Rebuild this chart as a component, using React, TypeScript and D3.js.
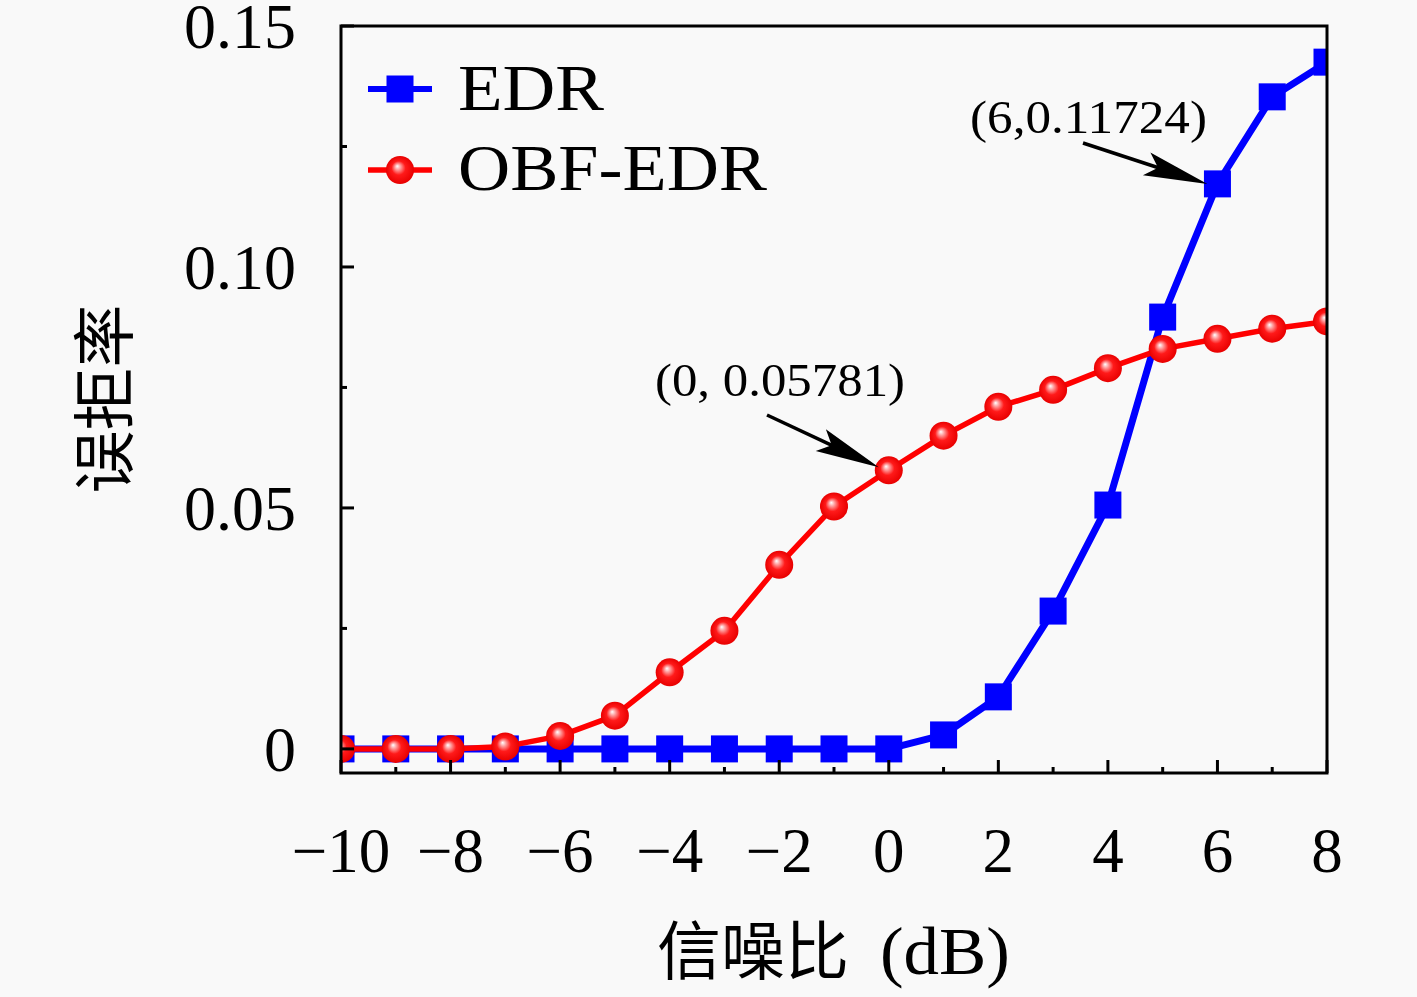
import React from "react";
import * as d3 from "d3";

const snr = [-10, -9, -8, -7, -6, -5, -4, -3, -2, -1, 0, 1, 2, 3, 4, 5, 6, 7, 8];
const edr = [0, 0, 0, 0, 0, 0, 0, 0, 0, 0, 0, 0.0029, 0.0108, 0.0286, 0.0506, 0.0896, 0.11724, 0.1353, 0.1425];
const obfEdr = [0, 0, 0, 0.0005, 0.0027, 0.0069, 0.0159, 0.0245, 0.0382, 0.0503, 0.05781, 0.065, 0.071, 0.0745, 0.079, 0.083, 0.0851, 0.0872, 0.0887];
const xTicks = [-10, -8, -6, -4, -2, 0, 2, 4, 6, 8];
const xMinor = [-9, -7, -5, -3, -1, 1, 3, 5, 7];
const yTicks = [0, 0.05, 0.1, 0.15];
const yTickLabels = ["0", "0.05", "0.10", "0.15"];
const yMinor = [0.025, 0.075, 0.125];
const seriesNames = ["EDR", "OBF-EDR"];
const annoTexts = ["(6,0.11724)", "(0, 0.05781)"];
const xLabelCn = "信噪比";
const xLabelUnit = "(dB)";
const yLabel = "误拒率";

const W = 1417, H = 997;
const L = 341, R = 1327, T = 26, B = 773;

const serif = "'Liberation Serif', 'DejaVu Serif', serif";
const cjk = "'Noto Sans CJK SC', 'Noto Sans CJK JP', sans-serif";

function Arrow({ x1, y1, x2, y2, head = 64, half = 12 }: any) {
  const dx = x2 - x1, dy = y2 - y1;
  const len = Math.hypot(dx, dy);
  const ux = dx / len, uy = dy / len;
  const bx = x2 - ux * head, by = y2 - uy * head;
  const px = -uy, py = ux;
  const pts = `${x2},${y2} ${bx + px * half},${by + py * half} ${bx + ux * 12},${by + uy * 12} ${bx - px * half},${by - py * half}`;
  return (
    <g>
      <line x1={x1} y1={y1} x2={bx + ux * 14} y2={by + uy * 14} stroke="#000" strokeWidth={3.5} />
      <polygon points={pts} fill="#000" />
    </g>
  );
}

export default function App() {
  const x = d3.scaleLinear().domain([-10, 8]).range([L, R]);
  const y = d3.scaleLinear().domain([-0.005, 0.15]).range([B, T]);
  const line = d3.line<number>().x((_, i) => x(snr[i])).y((d) => y(d));

  const sq = 27;
  const r = 14;

  return (
    <svg width={W} height={H} style={{ position: "absolute", left: 0, top: 0 }}>
      <defs>
        <clipPath id="plot">
          <rect x={L} y={T} width={R - L} height={B - T} />
        </clipPath>
        <radialGradient id="ball" cx="0.5" cy="0.5" r="0.5" fx="0.4" fy="0.36">
          <stop offset="0%" stopColor="#ffffff" />
          <stop offset="20%" stopColor="#ffa0a0" />
          <stop offset="50%" stopColor="#ff1a1a" />
          <stop offset="100%" stopColor="#e80000" />
        </radialGradient>
      </defs>
      <rect x={0} y={0} width={W} height={H} fill="#f9f9f9" />

      <g clipPath="url(#plot)">
        <path d={line(edr) || ""} fill="none" stroke="#0000ff" strokeWidth={7} strokeLinejoin="round" />
        {edr.map((v, i) => (
          <rect key={"e" + i} x={x(snr[i]) - sq / 2} y={y(v) - sq / 2} width={sq} height={sq} fill="#0000ff" />
        ))}
        <path d={line(obfEdr) || ""} fill="none" stroke="#ff0000" strokeWidth={5.5} strokeLinejoin="round" />
        {obfEdr.map((v, i) => (
          <circle key={"o" + i} cx={x(snr[i])} cy={y(v)} r={r} fill="url(#ball)" />
        ))}
      </g>

      {/* ticks */}
      {xTicks.map((t) => (
        <line key={"xt" + t} x1={x(t)} x2={x(t)} y1={B} y2={B - 13} stroke="#000" strokeWidth={3} />
      ))}
      {xMinor.map((t) => (
        <line key={"xm" + t} x1={x(t)} x2={x(t)} y1={B} y2={B - 6} stroke="#000" strokeWidth={3} />
      ))}
      {yTicks.map((t) => (
        <line key={"yt" + t} x1={L} x2={L + 13} y1={y(t)} y2={y(t)} stroke="#000" strokeWidth={3} />
      ))}
      {yMinor.map((t) => (
        <line key={"ym" + t} x1={L} x2={L + 6} y1={y(t)} y2={y(t)} stroke="#000" strokeWidth={3} />
      ))}
      <rect x={L} y={T} width={R - L} height={B - T} fill="none" stroke="#000" strokeWidth={3} />

      {/* tick labels */}
      {xTicks.map((t) => (
        <text key={"xl" + t} x={x(t)} y={872} textAnchor="middle" fontFamily={serif} fontSize={63} fill="#000">
          {t < 0 ? "\u2212" + Math.abs(t) : String(t)}
        </text>
      ))}
      {yTicks.map((t, i) => (
        <text key={"yl" + t} x={296} y={y(t) + 22} textAnchor="end" fontFamily={serif} fontSize={64} fill="#000">
          {yTickLabels[i]}
        </text>
      ))}

      {/* axis labels */}
      <text x={657} y={974} fontFamily={cjk} fontSize={64} textLength={192} lengthAdjust="spacingAndGlyphs" fill="#000">
        {xLabelCn}
      </text>
      <text x={880} y={974} fontFamily={serif} fontSize={68} textLength={130} lengthAdjust="spacingAndGlyphs" fill="#000">
        {xLabelUnit}
      </text>
      <text transform="translate(127,399) rotate(-90)" textAnchor="middle" fontFamily={cjk} fontSize={63} fill="#000">
        {yLabel}
      </text>

      {/* legend */}
      <line x1={368} x2={432} y1={89} y2={89} stroke="#0000ff" strokeWidth={6} />
      <rect x={400 - sq / 2} y={89 - sq / 2} width={sq} height={sq} fill="#0000ff" />
      <text x={458} y={110} fontFamily={serif} fontSize={66} textLength={146} lengthAdjust="spacingAndGlyphs" fill="#000">
        {seriesNames[0]}
      </text>
      <line x1={368} x2={432} y1={170} y2={170} stroke="#ff0000" strokeWidth={5.5} />
      <circle cx={400} cy={170} r={r} fill="url(#ball)" />
      <text x={458} y={190} fontFamily={serif} fontSize={66} textLength={309} lengthAdjust="spacingAndGlyphs" fill="#000">
        {seriesNames[1]}
      </text>

      {/* annotations */}
      <text x={970} y={133} fontFamily={serif} fontSize={47} textLength={237} lengthAdjust="spacingAndGlyphs" fill="#000">
        {annoTexts[0]}
      </text>
      <Arrow x1={1083} y1={143} x2={x(6) - 10} y2={y(0.11724)} />
      <text x={655} y={396} fontFamily={serif} fontSize={47} textLength={250} lengthAdjust="spacingAndGlyphs" fill="#000">
        {annoTexts[1]}
      </text>
      <Arrow x1={767} y1={415} x2={x(0) - 10} y2={y(0.05781) - 3} />
    </svg>
  );
}
